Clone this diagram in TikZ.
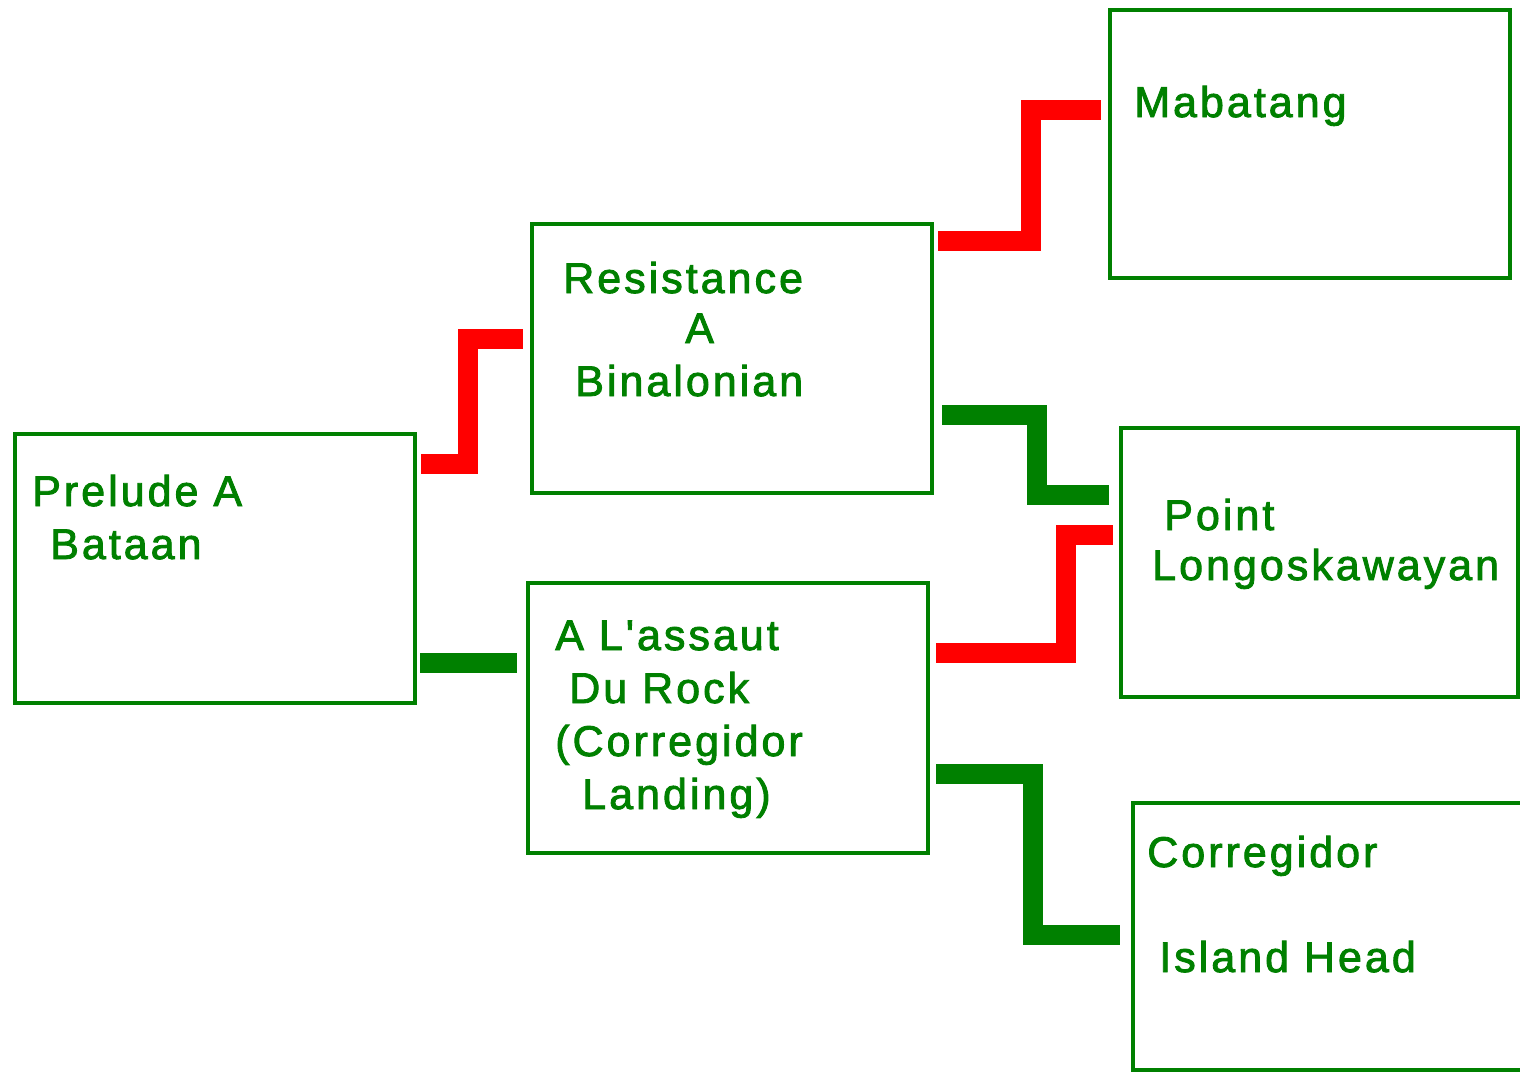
\documentclass[tikz,border=0pt]{standalone}
\usepackage{fontspec}
\newfontfamily\lblfont[LetterSpace=7,FakeBold=2]{Liberation Sans}
\definecolor{boxgreen}{RGB}{0,128,0}
\definecolor{linkred}{RGB}{255,0,0}
\tikzset{
  box/.style={draw=boxgreen, line width=3pt, rectangle, anchor=north west, inner sep=0pt},
  lbl/.style={anchor=base west, inner sep=0pt, text=boxgreen, align=left,
    font=\lblfont\fontsize{32.25pt}{39.75pt}\selectfont},
  redlink/.style={draw=linkred, line width=15pt, line join=miter, line cap=butt},
  greenlink/.style={draw=boxgreen, line width=15pt, line join=miter, line cap=butt}
}
\begin{document}
\begin{tikzpicture}[x=0.75pt,y=-0.75pt]
\useasboundingbox (0,0) rectangle (1520,1072);
\clip (0,0) rectangle (1520,1072);
\fill[white] (0,0) rectangle (1520,1072);
% boxes (positions are the outer corners of the border)
\node[box, minimum width=300pt, minimum height=201.75pt] (prelude) at (13,432) {};
\node[box, minimum width=300pt, minimum height=201.4pt] (resist) at (530,222) {};
\node[box, minimum width=300pt, minimum height=202.5pt] (assaut) at (526,581) {};
\node[box, minimum width=300pt, minimum height=201pt] (mabat) at (1108,8) {};
\node[box, minimum width=297.75pt, minimum height=201.75pt] (point) at (1119,426) {};
\node[box, minimum width=315pt, minimum height=200pt] (corr) at (1130.5,801) {};
% texts (anchored at the baseline of their last line)
\node[lbl] (prelude-t) at (32,559) {Prelude A\\\hspace*{13.5pt}Bataan};
\node[lbl] (resist-t) at (563,396) {Resistance\\[-2.25pt]\hspace*{91.5pt}A\\\hspace*{9pt}Binalonian};
\node[lbl] (assaut-t) at (555,809) {A L'assaut\\\hspace*{10.5pt}Du Rock\\(Corregidor\\\hspace*{20.25pt}Landing)};
\node[lbl] (mabat-t) at (1134,117) {Mabatang};
\node[lbl] (point-t) at (1152,580) {\hspace*{9pt}Point\\[-2.25pt]Longoskawayan};
\node[lbl] (corr-t) at (1147,972) {Corregidor\\[39pt]\hspace*{9pt}Island Head};
% connectors
\draw[redlink] ([shift={(4,31.5)}]prelude.north east) -- ++(46.5,0) |- ([shift={(-7,117)}]resist.north west);
\draw[greenlink] ([shift={(3,231)}]prelude.north east) -- ([shift={(-9,82)}]assaut.north west);
\draw[redlink] ([shift={(4,18.5)}]resist.north east) -- ++(92.5,0) |- ([shift={(-7,102)}]mabat.north west);
\draw[greenlink] ([shift={(8,193)}]resist.north east) -- ++(95,0) |- ([shift={(-10,69)}]point.north west);
\draw[redlink] ([shift={(6,72)}]assaut.north east) -- ++(129.5,0) |- ([shift={(-6,109)}]point.north west);
\draw[greenlink] ([shift={(6,193)}]assaut.north east) -- ++(97,0) |- ([shift={(-10.5,133.5)}]corr.north west);
\end{tikzpicture}
\end{document}
